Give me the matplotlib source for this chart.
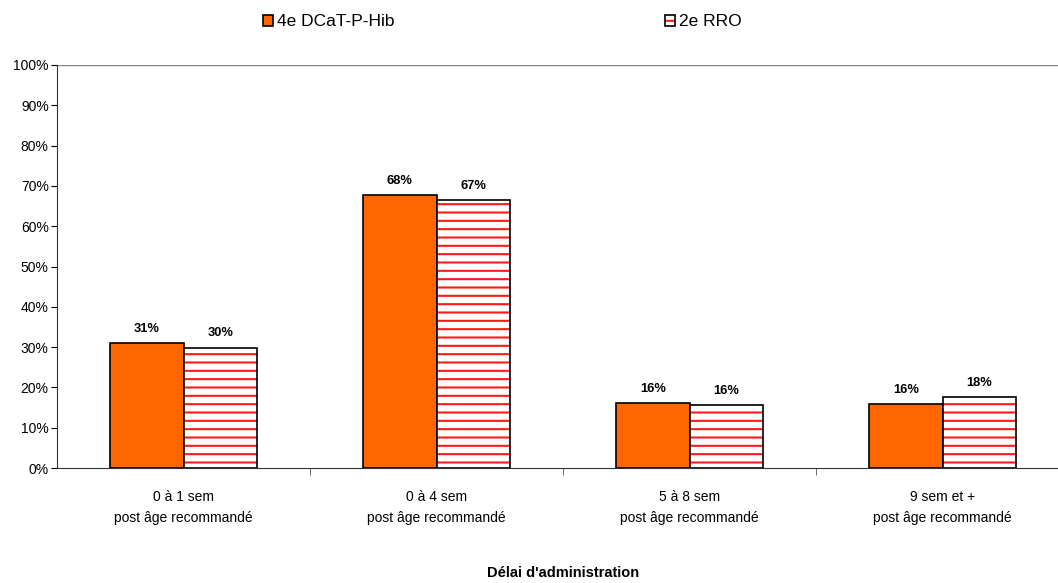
import numpy as np
import matplotlib.pyplot as plt
from matplotlib.ticker import FuncFormatter

plt.rcParams['font.family'] = ['Liberation Sans', 'DejaVu Sans']
plt.rcParams['hatch.linewidth'] = 1.5

categories = ['0 à 1 sem\npost âge recommandé', '0 à 4 sem\npost âge recommandé',
              '5 à 8 sem\npost âge recommandé', '9 sem et +\npost âge recommandé']
dcat = [31.0, 67.7, 16.1, 15.8]
rro = [29.9, 66.5, 15.6, 17.5]
dcat_labels = ['31%', '68%', '16%', '16%']
rro_labels = ['30%', '67%', '16%', '18%']
series_names = ['4e DCaT-P-Hib', '2e RRO']

fig = plt.figure(figsize=(10.58, 5.83), dpi=100)
ax = fig.add_axes([57 / 1058, 1 - 468 / 583, 1012 / 1058, 403 / 583])

x = np.arange(len(categories))
w = 0.29
b1 = ax.bar(x - w / 2, dcat, w, color='#ff6600', edgecolor='black', linewidth=1.2)
# red hatch first, black outline drawn on top
b2h = ax.bar(x + w / 2, rro, w, color='white', edgecolor='#ff1a1a', linewidth=0, hatch='--')
b2 = ax.bar(x + w / 2, rro, w, fill=False, edgecolor='black', linewidth=1.2)

for bars, labs in ((b1, dcat_labels), (b2, rro_labels)):
    for bar, lab in zip(bars, labs):
        ax.annotate(lab, (bar.get_x() + bar.get_width() / 2, bar.get_height()),
                    xytext=(0, 6), textcoords='offset points', ha='center',
                    va='bottom', fontsize=9.3, fontweight='bold')

ax.set_xlim(-0.5, len(categories) - 0.5)
ax.set_ylim(0, 100)
ax.set_yticks(np.arange(0, 101, 10))
ax.yaxis.set_major_formatter(FuncFormatter(lambda v, p: f'{int(v)}%'))
ax.set_xticks(x)
ax.set_xticklabels(categories, fontsize=10, linespacing=1.65)
ax.tick_params(axis='x', length=0, pad=16)
ax.set_xticks(np.arange(0.5, len(categories) - 1, 1), minor=True)
ax.tick_params(axis='x', which='minor', length=5, color='#555555')
ax.tick_params(axis='y', labelsize=10, length=4, pad=2)
ax.axhline(100, color='#888888', linewidth=1)

for s in ['top', 'right']:
    ax.spines[s].set_visible(False)
ax.spines['left'].set_color('#333333')
ax.spines['bottom'].set_color('#333333')

ax.set_xlabel("Délai d'administration", fontsize=10.5, fontweight='bold', va='center')
ax.xaxis.set_label_coords(0.5, (468 - 573) / 403)

fig.legend(handles=[b1[0]], labels=[series_names[0]], loc='center left',
           bbox_to_anchor=(263 / 1058, 1 - 22 / 583), frameon=False, fontsize=12.5,
           handlelength=0.6, handleheight=0.6, handletextpad=0.2,
           borderpad=0, borderaxespad=0)
fig.legend(handles=[(b2h[0], b2[0])], labels=[series_names[1]], loc='center left',
           bbox_to_anchor=(665 / 1058, 1 - 22 / 583), frameon=False, fontsize=12.5,
           handlelength=0.6, handleheight=0.6, handletextpad=0.2,
           borderpad=0, borderaxespad=0)

fig.savefig('out.png', dpi=100)
